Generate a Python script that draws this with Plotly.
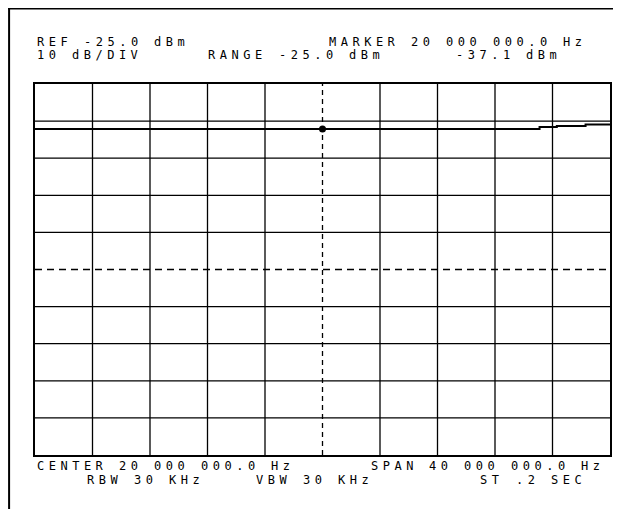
import plotly.graph_objects as go

# ---- data ----
freq_mhz = [0, 5, 10, 15, 20, 25, 30, 35.1, 36.3, 38.3, 40]
level_dbm = [-37.1, -37.1, -37.1, -37.1, -37.1, -37.1, -37.1, -36.6, -36.3, -35.9, -35.7]
marker_freq = [20]
marker_level = [-37.1]
ref_level = -25.0
db_per_div = 10
span_mhz = 40
x_grid = [0, 4, 8, 12, 16, 20, 24, 28, 32, 36, 40]
y_grid = [-25, -35, -45, -55, -65, -75, -85, -95, -105, -115, -125]

# header / footer text segments: (text, left pixel, centre pixel y) in screenshot pixels
header_texts = [
    ("REF -25.0 dBm", 35, 42),
    ("MARKER 20 000 000.0 Hz", 328, 42),
    ("10 dB/DIV", 35, 55),
    ("RANGE -25.0 dBm", 207, 55),
    ("-37.1 dBm", 455, 55),
    ("CENTER 20 000 000.0 Hz", 35, 466),
    ("SPAN 40 000 000.0 Hz", 370, 466),
    ("RBW 30 KHz", 85, 480),
    ("VBW 30 KHz", 255, 480),
    ("ST .2 SEC", 480, 480),
]

OFF = 8  # page body margin
W, H = 621 - OFF, 509 - OFF
L, T = 35 - OFF, 84 - OFF
R, B = W - (612 - OFF), H - (455 - OFF)
PW, PH = W - L - R, H - T - B
FONT = dict(family="DejaVu Sans Mono", size=12, color="black")
SPACING = 4.5
PITCH = 12 * 0.602 + SPACING

fig = go.Figure()
fig.add_trace(go.Scatter(x=freq_mhz, y=level_dbm, mode="lines", line=dict(color="black", width=2, shape="hv"),
                         showlegend=False, hoverinfo="skip"))
fig.add_trace(go.Scatter(x=marker_freq, y=marker_level, mode="markers", marker=dict(color="black", size=7),
                         showlegend=False, hoverinfo="skip"))

shapes = []
mid_x = span_mhz / 2
mid_y = ref_level - 5 * db_per_div
for gx in x_grid[1:-1]:
    shapes.append(dict(type="line", xref="x", yref="paper", x0=gx, x1=gx, y0=0, y1=1,
                       line=dict(color="black", width=1.3, dash="5px,4px" if gx == mid_x else "solid"), layer="below"))
for gy in y_grid[1:-1]:
    shapes.append(dict(type="line", xref="paper", yref="y", x0=0, x1=1, y0=gy, y1=gy,
                       line=dict(color="black", width=1.3, dash="7px,5px" if gy == mid_y else "solid"), layer="below"))


def px_x(p):
    return (p - OFF - L) / PW


def px_y(p):
    return 1 - (p - OFF - T) / PH


# outer frame (top and left edges)
shapes.append(dict(type="line", xref="paper", yref="paper", x0=px_x(8), x1=px_x(621), y0=px_y(8.5), y1=px_y(8.5),
                   line=dict(color="black", width=2)))
shapes.append(dict(type="line", xref="paper", yref="paper", x0=px_x(9), x1=px_x(9), y0=px_y(8), y1=px_y(509),
                   line=dict(color="black", width=2)))

annotations = []
for text, left, cy in header_texts:
    col = 0
    for tok in text.split(" "):
        if tok:
            annotations.append(dict(text='<span style="letter-spacing:%.1fpx">%s</span>' % (SPACING, tok),
                                    xref="paper", yref="paper", x=px_x(left + col * PITCH), y=px_y(cy), height=12,
                                    xanchor="left", yanchor="middle", showarrow=False, font=FONT))
        col += len(tok) + 1

fig.update_layout(
    width=W, height=H, margin=dict(l=L, r=R, t=T, b=B),
    paper_bgcolor="white", plot_bgcolor="white",
    xaxis=dict(range=[0, span_mhz], showgrid=False, zeroline=False, showticklabels=False, ticks="",
               showline=True, mirror=True, linecolor="black", linewidth=1.5, fixedrange=True),
    yaxis=dict(range=[ref_level - 10 * db_per_div, ref_level], showgrid=False, zeroline=False, showticklabels=False,
               ticks="", showline=True, mirror=True, linecolor="black", linewidth=1.5, fixedrange=True),
    shapes=shapes, annotations=annotations,
)
fig.write_html("out.html", config={"displayModeBar": False})
